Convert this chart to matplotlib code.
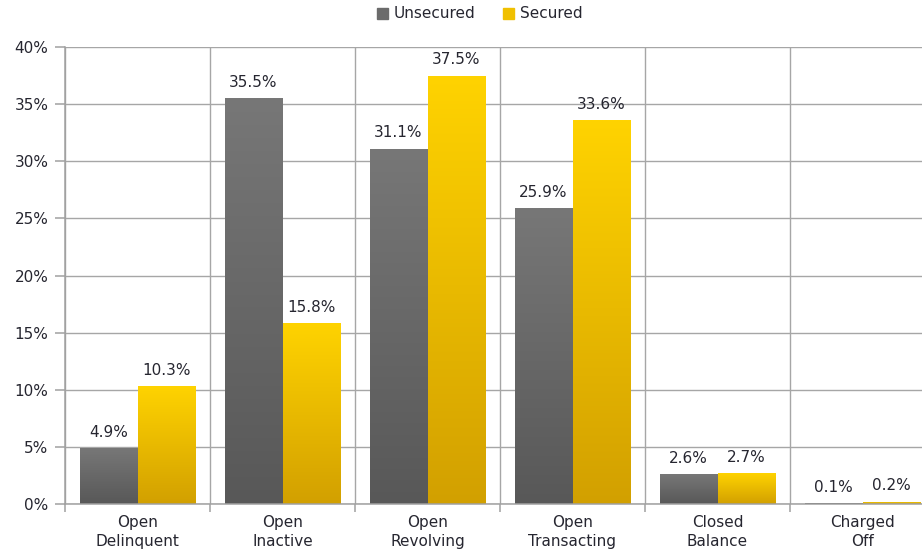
import matplotlib
matplotlib.use("Agg")
import matplotlib.pyplot as plt
import numpy as np
from matplotlib.colors import LinearSegmentedColormap
from matplotlib.patches import Patch

categories = ["Open\nDelinquent", "Open\nInactive", "Open\nRevolving",
              "Open\nTransacting", "Closed\nBalance", "Charged\nOff"]
unsecured = [4.9, 35.5, 31.1, 25.9, 2.6, 0.1]
secured = [10.3, 15.8, 37.5, 33.6, 2.7, 0.2]
series_names = ["Unsecured", "Secured"]
yticks = [0, 5, 10, 15, 20, 25, 30, 35, 40]

plt.rcParams['font.family'] = ['DejaVu Sans']
fig = plt.figure(figsize=(9.22, 5.56), dpi=100)
ax = fig.add_axes([65/922, 52/556, 870/922, 457/556])

x = np.arange(len(categories))
w = 0.4
grey_cmap = LinearSegmentedColormap.from_list("g", ["#585858", "#777777"])
gold_cmap = LinearSegmentedColormap.from_list("y", ["#d2a000", "#ffd300"])

txt_color = "#262630"
fs = 11
for vals, off, cmap, base in [(unsecured, -w/2, grey_cmap, "#6b6b6b"),
                               (secured, w/2, gold_cmap, "#f0c000")]:
    bars = ax.bar(x + off, vals, width=w, color=base, zorder=2, linewidth=0)
    for b, v in zip(bars, vals):
        x0 = b.get_x()
        grad = np.linspace(0, 1, 256).reshape(-1, 1)
        im = ax.imshow(grad, extent=[x0, x0 + b.get_width(), 0, max(v, 0.01)],
                       origin="lower", cmap=cmap, aspect="auto", zorder=2.5)
        im.set_clip_path(b)
        ax.annotate(f"{v:.1f}%", (b.get_x() + b.get_width()/2, v),
                    xytext=(0, 6), textcoords="offset points",
                    ha="center", va="bottom", fontsize=fs, color=txt_color)

ax.set_xlim(-0.5, len(categories) - 0.5)
ax.set_ylim(0, 40)
ax.set_yticks(yticks)
ax.set_yticklabels([f"{t}%" for t in yticks], fontsize=fs, color=txt_color)
ax.set_xticks(x)
ax.set_xticklabels(categories, fontsize=fs, color=txt_color, linespacing=1.35)
ax.set_xticks(np.arange(len(categories) + 1) - 0.5, minor=True)
ax.tick_params(axis="x", which="major", length=0, pad=8)
ax.tick_params(axis="x", which="minor", length=6, color="#a0a0a0", width=1.1)
ax.tick_params(axis="y", length=7, color="#a0a0a0", width=1.1, pad=5)
ax.grid(axis="y", which="major", color="#a6a6a6", linewidth=1.0, zorder=0)
ax.grid(axis="x", which="minor", color="#a6a6a6", linewidth=1.0, zorder=0)
ax.set_axisbelow(True)
for s in ["top", "right"]:
    ax.spines[s].set_visible(False)
for s in ["left", "bottom"]:
    ax.spines[s].set_color("#a0a0a0")
    ax.spines[s].set_linewidth(1.1)

handles = [Patch(color="#6b6b6b"), Patch(color="#f0c000")]
fig.legend(handles, series_names, loc="center", bbox_to_anchor=(480/922, 1 - 14/556),
           ncol=2, frameon=False, fontsize=fs, handlelength=0.7, handleheight=0.7,
           handletextpad=0.4, columnspacing=1.8, labelcolor=txt_color)

fig.savefig("out.png", dpi=100)
